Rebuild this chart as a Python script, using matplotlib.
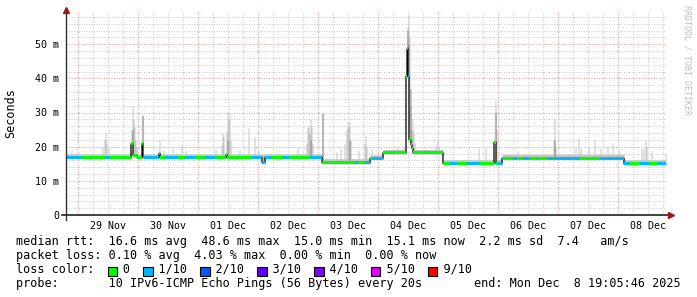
import numpy as np
import matplotlib
matplotlib.use("Agg")
import matplotlib.pyplot as plt
from matplotlib.patches import Rectangle

# time in hours since 29 Nov 00:00, one bin = one pixel = 0.4 h
T0, T1 = -4.8, 235.2
DAY_LABELS = ["29 Nov", "30 Nov", "01 Dec", "02 Dec", "03 Dec",
              "04 Dec", "05 Dec", "06 Dec", "07 Dec", "08 Dec"]

# median rtt (ms), piecewise: start hour -> value
MEDIAN_T = [-4.8, 21.2, 22.0, 23.6, 25.6, 26.0, 32.4, 32.8, 59.2, 59.6,
            73.6, 74.8, 97.6, 116.8, 122.0, 131.2, 131.6, 132.0, 132.4,
            133.2, 133.6, 134.0, 146.0, 166.4, 167.2, 169.6, 218.4]
MEDIAN_MS = [16.9, 20.8, 17.5, 16.9, 20.9, 16.9, 18.0, 16.9, 17.6, 16.9,
             15.4, 16.9, 15.3, 16.6, 18.2, 40.6, 48.6, 40.6, 22.0,
             20.5, 19.5, 18.2, 15.1, 21.3, 15.1, 16.6, 15.0]

# usual top of the smoke band
SMOKE_T = [-4.8, 97.6, 116.8, 122.0, 146.0, 169.6, 218.4]
SMOKE_MS = [17.9, 16.5, 17.6, 19.2, 16.2, 17.8, 16.2]

# smoke spikes (hour, max ms)
SPIKE_T = [-2.8, -1.2, 9.6, 10.4, 10.8, 11.2, 12.0, 21.2, 21.6, 22.0, 22.4,
           22.8, 23.2, 25.6, 32.4, 34.0, 37.6, 41.2, 42.8, 54.8, 57.2, 57.6,
           58.0, 59.2, 59.6, 60.0, 60.4, 60.8, 64.4, 68.0, 70.4, 72.0, 87.6,
           91.2, 91.6, 92.0, 92.4, 92.8, 93.2, 93.6, 97.6, 103.2, 104.8,
           106.4, 107.2, 107.6, 108.0, 108.4, 108.8, 112.0, 114.4, 114.8,
           115.2, 117.2, 126.8, 127.6, 131.2, 131.6, 132.0, 132.4, 132.8,
           133.2, 133.6, 134.0, 134.4, 138.8, 142.8, 143.6, 144.0, 160.0,
           162.8, 166.8, 167.2, 175.6, 190.0, 190.4, 190.8, 198.8, 200.0,
           200.8, 204.0, 206.4, 208.8, 211.6, 213.6, 216.0, 225.2, 226.0,
           226.8, 227.2, 229.2, 234.8]
SPIKE_MS = [19.0, 18.3, 20.0, 22.0, 24.0, 21.0, 19.5, 25.0, 31.7, 28.0, 25.8,
            22.0, 20.0, 29.2, 22.0, 19.0, 19.5, 20.8, 19.0, 19.3, 20.5, 24.0,
            23.0, 24.5, 30.2, 28.0, 30.0, 22.0, 19.0, 25.4, 22.9, 19.0, 19.5,
            21.0, 25.6, 26.3, 24.0, 28.0, 26.0, 21.0, 29.8, 18.5, 19.5,
            21.0, 25.0, 27.3, 26.0, 27.3, 22.0, 19.0, 21.0, 23.4,
            20.0, 19.5, 19.3, 19.8, 42.0, 55.0, 58.5, 52.0, 32.0,
            25.0, 27.8, 24.0, 21.0, 19.5, 20.5, 22.0, 20.0, 19.5,
            19.5, 33.6, 25.0, 18.5, 22.0, 28.3, 20.0, 20.0, 22.5,
            19.5, 20.0, 22.0, 19.5, 20.0, 20.8, 19.0, 19.5, 19.0,
            22.0, 20.0, 18.5, 18.2]

# darker smoke cores (hour, ms)
DARK_T = [21.6, 25.6, 59.6, 92.8, 97.6, 108.4, 131.6, 132.0, 132.8, 166.8, 190.4]
DARK_MS = [25.0, 29.2, 22.0, 22.0, 29.8, 22.0, 54.0, 50.0, 37.0, 30.0, 22.0]

# spans with 1/10 packet loss (hours)
BLUE_SPANS = [(-4.8, 1.6), (10.8, 12.8), (26.4, 32.4), (34.8, 40.0),
              (42.8, 46.8), (50.8, 54.8), (69.6, 77.6), (82.0, 84.8),
              (92.8, 97.6), (110.8, 112.0), (114.8, 116.8), (117.6, 122.0),
              (131.6, 132.4), (148.8, 151.6), (155.6, 160.8), (168.0, 170.0),
              (174.0, 175.6), (178.0, 180.8), (187.6, 189.6), (190.0, 200.8),
              (208.8, 220.8), (224.8, 228.8), (231.6, 235.2)]

LOSS_LABELS = ["0", "1/10", "2/10", "3/10", "4/10", "5/10", "9/10"]
LOSS_COLORS = ["#00ff00", "#00b8ff", "#0059ff", "#5e00ff", "#7e00ff", "#dd00ff", "#ff0000"]

W, H = 697, 297
MONO = "DejaVu Sans Mono"
plt.rcParams["font.family"] = MONO

fig = plt.figure(figsize=(W / 100, H / 100), dpi=100)
fig.patch.set_facecolor("white")
ax = fig.add_axes([66 / W, (H - 215) / H, 600 / W, 205 / H])
ax.set_xlim(T0, T1)
ax.set_ylim(0, 60)

nb = 600
edges = T0 + 0.4 * np.arange(nb + 1)
starts = edges[:-1]
med = np.array(MEDIAN_MS)[np.searchsorted(MEDIAN_T, starts + 0.01, side="right") - 1]
top = np.array(SMOKE_MS)[np.searchsorted(SMOKE_T, starts + 0.01, side="right") - 1]
top = np.maximum(top, med + 0.6)
for h, v in zip(SPIKE_T, SPIKE_MS):
    i = int(round((h - T0) / 0.4))
    if 0 <= i < nb:
        top[i] = max(top[i], v)
dark = med.copy()
for h, v in zip(DARK_T, DARK_MS):
    i = int(round((h - T0) / 0.4))
    if 0 <= i < nb:
        dark[i] = max(dark[i], v)


def ext(a):
    return np.append(a, a[-1])


# grid
red = "#e8a4a4"
gray = "#d0d0d0"
dots = (0, (1, 1.4))
for h in np.arange(0, 240, 6):
    if h > T1:
        break
    c = red if h % 24 == 0 else gray
    ax.axvline(h, color=c, lw=0.75, ls=dots, zorder=1)
for v in np.arange(2, 60, 2):
    c = red if v % 10 == 0 else gray
    ax.axhline(v, color=c, lw=0.75, ls=dots, zorder=1)

# smoke
ax.fill_between(edges, ext(med - 0.4), ext(top), step="post", color="#c6c6c6", lw=0, zorder=2)
ax.fill_between(edges, ext(med - 0.2), ext(dark), step="post", color="#8c8c8c", lw=0, zorder=3)

# median line
ax.step(edges, ext(med), where="post", color="black", lw=0.9, zorder=4)

# loss coloured band
blue = np.zeros(nb, dtype=bool)
for a, b in BLUE_SPANS:
    blue |= (starts >= a - 0.01) & (starts < b - 0.01)
i = 0
while i < nb:
    j = i
    while j < nb and blue[j] == blue[i]:
        j += 1
    col = LOSS_COLORS[1] if blue[i] else LOSS_COLORS[0]
    seg = med[i:j]
    ax.fill_between(edges[i:j + 1], ext(seg - 0.45), ext(seg + 0.45),
                    step="post", color=col, lw=0, zorder=5)
    i = j

# axes
for s in ax.spines.values():
    s.set_visible(False)
ax.plot([0, 0], [-5 / 205, 1.0], transform=ax.transAxes, color="#303030",
        lw=1.0, clip_on=False, zorder=6)
ax.plot([-4 / 600, 1 + 3 / 600], [0, 0], transform=ax.transAxes, color="#202020",
        lw=1.2, clip_on=False, zorder=6)
ax.plot([0], [1.0], marker="^", ms=4, color="#a01818", transform=ax.transAxes,
        clip_on=False, zorder=7)
ax.plot([1 + 5 / 600], [0], marker=">", ms=4, color="#a01818", transform=ax.transAxes,
        clip_on=False, zorder=7)

ax.set_xticks(12 + 24 * np.arange(len(DAY_LABELS)))
ax.set_xticklabels(DAY_LABELS)
ax.set_yticks([0, 10, 20, 30, 40, 50])
ax.set_yticklabels(["0", "10 m", "20 m", "30 m", "40 m", "50 m"])
ax.tick_params(axis="both", length=0, labelsize=7.2, colors="black")
ax.tick_params(axis="x", pad=4.5)
ax.tick_params(axis="y", pad=5)


def px(x, y):
    return x / W, 1 - y / H


fig.text(*px(11, 113), "Seconds", rotation=90, ha="center", va="center", fontsize=8.5)
fig.text(*px(687, 5), "RRDTOOL / TOBI OETIKER", rotation=270, ha="center", va="top",
         fontsize=6.0, color="#bdbdbd")

cw = 7.11
x0 = 16
fs = 8.5
fig.text(*px(x0, 245), "median rtt:  16.6 ms avg  48.6 ms max  15.0 ms min  15.1 ms now  2.2 ms sd  7.4   am/s",
         ha="left", va="baseline", fontsize=fs)
fig.text(*px(x0, 259), "packet loss: 0.10 % avg  4.03 % max  0.00 % min  0.00 % now",
         ha="left", va="baseline", fontsize=fs)
line = "loss color:  "
cols = []
for lab in LOSS_LABELS:
    cols.append(len(line))
    line += "  " + lab + "  "
fig.text(*px(x0, 273), line.rstrip(), ha="left", va="baseline", fontsize=fs)
for c, col in zip(cols, LOSS_COLORS):
    fx, fy = px(x0 + c * cw - 0.5, 276)
    fig.patches.append(Rectangle((fx, fy), 9.5 / W, 9.5 / H, transform=fig.transFigure,
                                 facecolor=col, edgecolor="black", lw=0.8))
fig.text(*px(x0, 287), "probe:       10 IPv6-ICMP Echo Pings (56 Bytes) every 20s",
         ha="left", va="baseline", fontsize=fs)
fig.text(*px(681, 287), "end: Mon Dec  8 19:05:46 2025", ha="right", va="baseline", fontsize=fs)

fig.savefig("out.png", dpi=100, facecolor="white")
